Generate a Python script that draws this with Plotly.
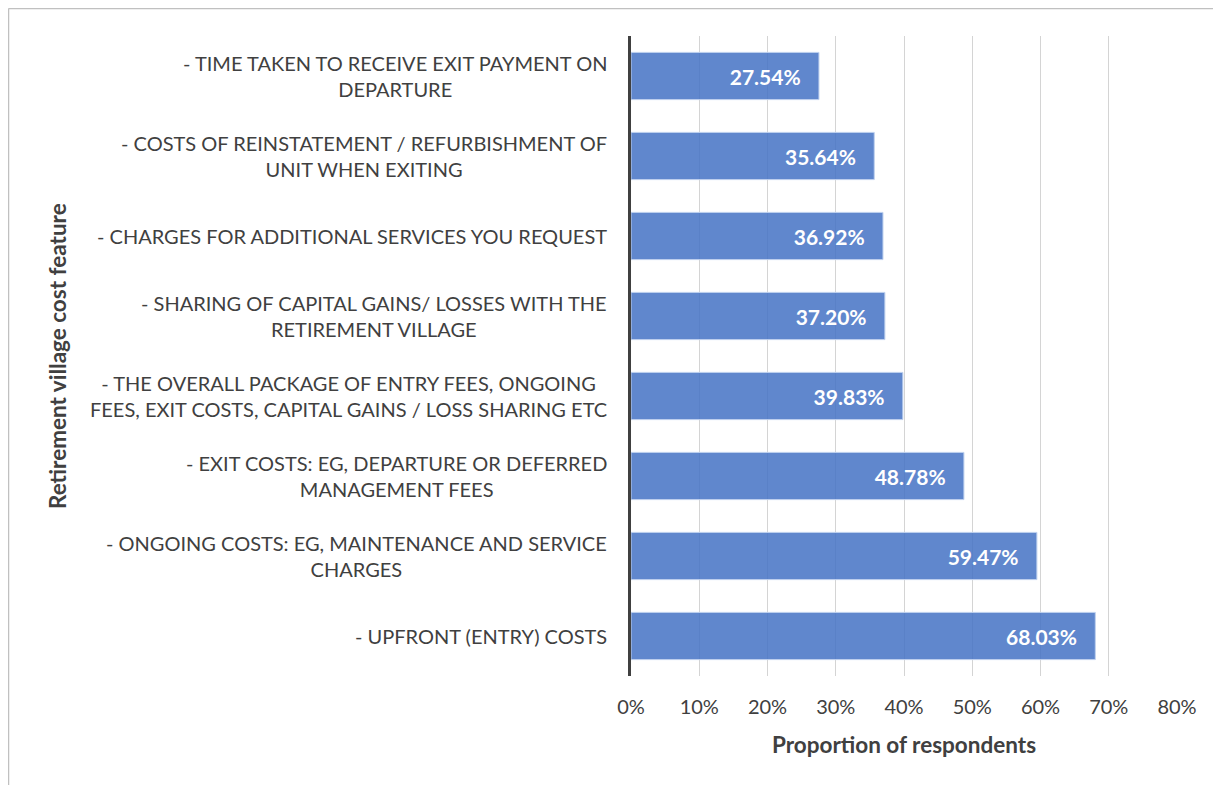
import plotly.graph_objects as go

categories = [
    "- TIME TAKEN TO RECEIVE EXIT PAYMENT ON<br>DEPARTURE",
    "- COSTS OF REINSTATEMENT / REFURBISHMENT OF<br>UNIT WHEN EXITING",
    "- CHARGES FOR ADDITIONAL SERVICES YOU REQUEST",
    "- SHARING OF CAPITAL GAINS/ LOSSES WITH THE<br>RETIREMENT VILLAGE",
    "- THE OVERALL PACKAGE OF ENTRY FEES, ONGOING<br>FEES, EXIT COSTS, CAPITAL GAINS / LOSS SHARING ETC",
    "- EXIT COSTS: EG, DEPARTURE OR DEFERRED<br>MANAGEMENT FEES",
    "- ONGOING COSTS: EG, MAINTENANCE AND SERVICE<br>CHARGES",
    "- UPFRONT (ENTRY) COSTS",
]
values = [27.54, 35.64, 36.92, 37.20, 39.83, 48.78, 59.47, 68.03]
x_ticks = [0, 10, 20, 30, 40, 50, 60, 70, 80]
x_title = "Proportion of respondents"
y_title = "Retirement village cost feature"

FONT = "Lato"
TXT = "#404040"
W, H = 1213, 777
ML, MR, MT, MB = 623, 44, 28, 109
PW, PH = W - ML - MR, H - MT - MB

fig = go.Figure()
fig.add_trace(go.Bar(
    y=categories, x=values, orientation="h",
    marker=dict(color="rgba(68,114,196,0.85)",
                line=dict(color="rgba(190,208,238,1)", width=1)),
    text=values, texttemplate="%{x:.2f}%\u00a0\u00a0\u00a0",
    textposition="inside", insidetextanchor="end",
    textfont=dict(family=FONT, size=21, color="white", weight="bold"),
    constraintext="none",
))

annotations = []
for c in categories:
    annotations.append(dict(
        x=0, xref="paper", y=c, yref="y", text=c, showarrow=False,
        xanchor="right", yanchor="middle", align="center", xshift=-22,
        font=dict(family=FONT, size=20, color=TXT),
    ))
annotations.append(dict(
    x=(49 - ML) / PW, xref="paper", y=0.5, yref="paper", text=y_title,
    textangle=-90, showarrow=False, xanchor="center", yanchor="middle",
    font=dict(family=FONT, size=22.5, color=TXT, weight="bold"),
))

bx = (0.5 - ML) / PW
by = 1 + (MT - 0.5) / PH
shapes = [
    dict(type="line", xref="paper", yref="paper", x0=bx, x1=(W - ML) / PW, y0=by, y1=by,
         line=dict(color="#C0C0C0", width=1.5)),
    dict(type="line", xref="paper", yref="paper", x0=bx, x1=bx, y0=by, y1=-(MB) / PH,
         line=dict(color="#C0C0C0", width=1.5)),
]

fig.update_layout(
    width=W, height=H,
    margin=dict(l=ML, r=MR, t=MT, b=MB),
    paper_bgcolor="white", plot_bgcolor="white",
    bargap=0.41, showlegend=False,
    annotations=annotations, shapes=shapes,
    font=dict(family=FONT, color=TXT, size=20),
    xaxis=dict(
        range=[0, 80], tickvals=x_ticks, ticktext=[f"{t}%" for t in x_ticks],
        showgrid=True, gridcolor="#D4D4D4", gridwidth=1, zeroline=False,
        showline=False, ticks="", ticklabelstandoff=17,
        tickfont=dict(family=FONT, size=20, color=TXT),
        title=dict(text=x_title, standoff=20,
                   font=dict(family=FONT, size=22.5, color=TXT, weight="bold")),
    ),
    yaxis=dict(
        autorange="reversed", showticklabels=False, ticks="",
        showgrid=False, zeroline=False,
        showline=True, linecolor="#404040", linewidth=3,
    ),
)

fig.write_html("out.html")
